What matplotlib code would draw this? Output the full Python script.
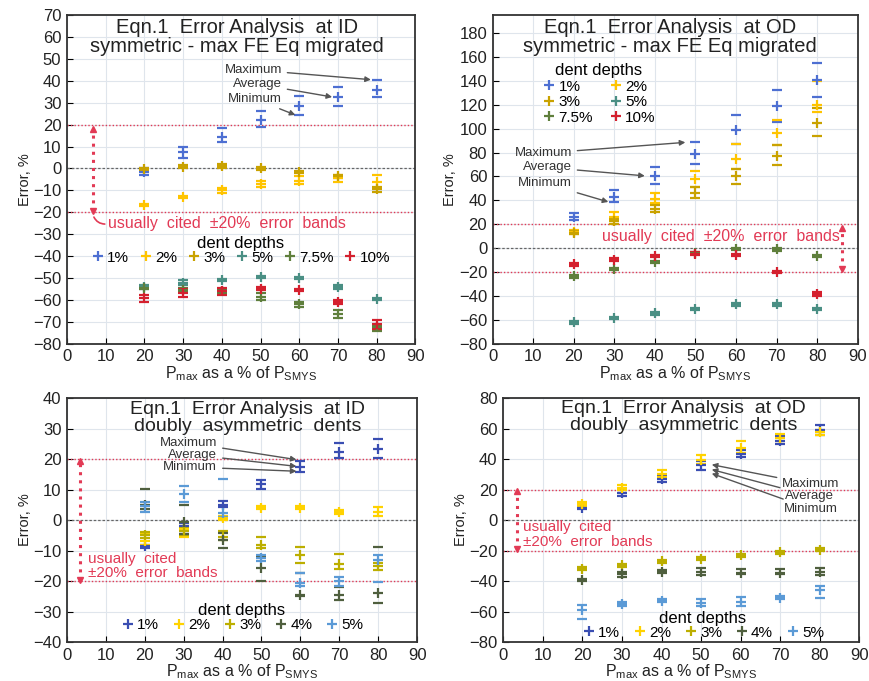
import matplotlib
matplotlib.use("Agg")
import matplotlib.pyplot as plt

plt.rcParams['font.family'] = ['Liberation Sans', 'DejaVu Sans']
plt.rcParams['mathtext.fontset'] = 'custom'
plt.rcParams['mathtext.rm'] = 'Liberation Sans'

# pressure levels (P_max as % of P_SMYS)
x = [20, 30, 40, 50, 60, 70, 80]

# --- ID, symmetric ---
tl_labels = ['1%', '2%', '3%', '5%', '7.5%', '10%']
tl_avg = {
    '1%': [-1.5, 7.5, 14.5, 22, 28.5, 32.5, 36],
    '2%': [-16.5, -13, -10, -7, -5.5, -4.5, -6],
    '3%': [-0.3, 0.8, 1, 0, -1.5, -3.5, -9.5],
    '5%': [-54, -52, -51, -49.5, -50, -54, -59.5],
    '7.5%': [-54.5, -55.5, -56, -58.5, -62, -66.5, -72.5],
    '10%': [-59, -57, -56, -55, -55.5, -61, -71],
}
tl_lo = {
    '1%': [-3, 5, 12, 19, 24.5, 28.5, 32.5],
    '2%': [-17, -13.5, -11, -8.5, -7, -6, -9],
    '3%': [-1, 0, 0, -0.5, -2, -4.5, -10.5],
    '5%': [-55, -53, -51.5, -50, -50.5, -55, -60],
    '7.5%': [-55, -56.5, -57, -60, -63, -68, -74],
    '10%': [-61, -58.5, -57.5, -55.5, -56, -62, -73],
}
tl_hi = {
    '1%': [0, 10, 18.5, 26, 33, 37, 40.5],
    '2%': [-16, -12.5, -9, -5.5, -3.5, -3, -3],
    '3%': [0.3, 1.5, 2, 0.5, -1, -2.8, -8.5],
    '5%': [-53, -51, -50.5, -49, -49.5, -53, -59],
    '7.5%': [-54, -54.5, -55, -57, -61, -64.5, -71.5],
    '10%': [-57.5, -55, -54.5, -54, -55, -60, -69],
}

# --- OD, symmetric ---
tr_avg = {
    '1%': [26.5, 43, 60.5, 78.5, 99, 119, 141],
    '2%': [13.5, 26, 41, 58, 75, 96.5, 120],
    '3%': [13, 22.5, 33, 46, 60, 77, 105],
    '5%': [-62, -58.5, -54.5, -51, -47, -47, -51],
    '7.5%': [-23.5, -17.5, -11.5, -4, -0.5, -1, -6.5],
    '10%': [-13.5, -9.5, -6.5, -4.5, -5.5, -20, -38.5],
}
tr_lo = {
    '1%': [24, 38.5, 53.5, 70, 87, 105.5, 126.5],
    '2%': [12, 23, 38, 51.5, 66.5, 86, 114],
    '3%': [12, 20, 30, 42, 54, 69.5, 93.5],
    '5%': [-63, -59.5, -55.5, -52, -48, -48, -52],
    '7.5%': [-24.5, -18.5, -12.5, -5, -1.5, -2, -7.5],
    '10%': [-14.5, -10.5, -7.5, -5.5, -6.5, -21, -40],
}
tr_hi = {
    '1%': [29.5, 48.5, 68, 88.5, 111, 132, 154.5],
    '2%': [15, 30, 46.5, 64.5, 87, 107, 140],
    '3%': [14.5, 24.5, 36, 51.5, 66.5, 86, 117],
    '5%': [-61, -57.5, -53.5, -50, -46, -46, -50],
    '7.5%': [-22.5, -16.5, -10.5, -3, 0.5, 0, -5.5],
    '10%': [-12.5, -8.5, -5.5, -3.5, -4.5, -19, -37],
}

# --- ID, doubly asymmetric ---
b_labels = ['1%', '2%', '3%', '4%', '5%']
bl_avg = {
    '1%': [-8.5, -2, 5, 11.7, 17.5, 22.4, 23.3],
    '2%': [-7, -3, 0.7, 4, 4, 2.5, 2.5],
    '3%': [-5, -3.5, -5.4, -8.3, -11.5, -14.5, -15],
    '4%': [5, -0.6, -6.5, -15.6, -24.5, -24.7, -24],
    '5%': [4.6, 8.5, 2.3, -12.5, -20.5, -20, -13],
}
bl_lo = {
    '1%': [-9.2, -3.5, 4.2, 10.3, 15.7, 20.3, 20.3],
    '2%': [-8, -5.5, 0, 3.5, 3.5, 2, 1.5],
    '3%': [-6, -5, -6.5, -9, -14.1, -16.1, -16.4],
    '4%': [3.5, -4.5, -9.2, -19.9, -25, -26.3, -27.1],
    '5%': [2.8, 6, 1, -13.5, -21.5, -21.5, -20.4],
}
bl_hi = {
    '1%': [-8, -1, 6.4, 13.1, 19.5, 25.1, 26.4],
    '2%': [-4.5, -2, 1.5, 4.5, 4.5, 3.3, 4.2],
    '3%': [-4, -2.5, -3.6, -5.4, -8.9, -11, -14],
    '4%': [10.1, 4.8, -4.3, -12, -17.5, -22, -8.9],
    '5%': [6, 11.2, 13.5, -11.5, -17.5, -18.5, -11.5],
}

# --- OD, doubly asymmetric ---
br_avg = {
    '1%': [8, 18, 27, 36, 43.5, 52, 59],
    '2%': [10.5, 21, 30.5, 39.5, 47.5, 54, 57.5],
    '3%': [-32, -29.7, -27, -25.2, -23, -21, -19.5],
    '4%': [-39.3, -35.5, -33.7, -33.7, -34.4, -34.4, -33.7],
    '5%': [-59, -55.1, -53, -54.3, -53.6, -51, -45.7],
}
br_lo = {
    '1%': [7, 15.5, 25, 33, 41.2, 49.8, 55.6],
    '2%': [9.5, 19.5, 28, 37, 44, 52, 56],
    '3%': [-33, -30.7, -28, -26, -24, -22, -20.5],
    '4%': [-40, -37, -34.5, -35.9, -35.5, -35.5, -35.9],
    '5%': [-65, -56, -54, -56.4, -56, -51.5, -50.9],
}
br_hi = {
    '1%': [9, 20, 29, 38.5, 46, 55, 62.5],
    '2%': [12, 23, 33, 42.7, 51.7, 56.7, 59],
    '3%': [-31, -28.7, -26, -24.4, -22, -20, -18.5],
    '4%': [-38.5, -34, -33, -31.6, -32, -32, -31.5],
    '5%': [-55.8, -54, -52, -51.5, -50.4, -50, -42.9],
}

top_colors = {'1%': '#4d6fd2', '2%': '#ffc400', '3%': '#c9a200',
              '5%': '#4a8f84', '7.5%': '#5f7f3c', '10%': '#d4202e'}
bot_colors = {'1%': '#3a4eb2', '2%': '#ffd200', '3%': '#bcae00',
              '4%': '#4f5f3e', '5%': '#5b9ad6'}

RED = '#e23a55'
TXT = '#222222'

fig = plt.figure(figsize=(8.69, 6.81), dpi=100)
ax_tl = fig.add_axes([0.077, 0.495, 0.401, 0.483])
ax_tr = fig.add_axes([0.567, 0.495, 0.420, 0.483])
ax_bl = fig.add_axes([0.077, 0.057, 0.403, 0.3586])
ax_br = fig.add_axes([0.579, 0.057, 0.410, 0.3586])


def setup(ax, ylim, yticks):
    ax.set_xlim(0, 90)
    ax.set_ylim(*ylim)
    ax.set_xticks(range(0, 91, 10))
    ax.set_yticks(yticks)
    ax.grid(True, color='#dfe5ec', lw=0.8, zorder=0)
    ax.set_axisbelow(True)
    ax.tick_params(direction='in', length=4, labelsize=12, labelcolor=TXT, pad=4)
    for s in ax.spines.values():
        s.set_linewidth(1.3)
        s.set_color('#333333')
    ax.axhline(0, color='#666666', lw=0.9, ls=(0, (2, 1.5)), zorder=1)
    for yv in (20, -20):
        ax.axhline(yv, color=RED, lw=1.0, ls=(0, (1, 1.5)), zorder=1)
    ax.set_xlabel(r'P$_{\mathrm{max}}$ as a % of P$_{\mathrm{SMYS}}$', fontsize=11.5, color=TXT, labelpad=0)
    ax.set_ylabel('Error, %', fontsize=10.5, color=TXT, labelpad=1)


def draw(ax, labels, avg, lo, hi, colors):
    handles = []
    for lab in labels:
        c = colors[lab]
        ax.plot(x, lo[lab], ls='none', marker='_', ms=7, mew=1.6, color=c, zorder=3)
        ax.plot(x, hi[lab], ls='none', marker='_', ms=7, mew=1.6, color=c, zorder=3)
        h, = ax.plot(x, avg[lab], ls='none', marker='+', ms=7, mew=1.6, color=c, zorder=4, label=lab)
        handles.append(h)
    return handles


def red_arrow(ax, xv, lo, hi):
    ax.plot([xv, xv], [lo, hi], color=RED, ls=':', lw=2.2, zorder=2)
    ax.plot([xv], [hi], marker='^', ms=5, color=RED, zorder=2)
    ax.plot([xv], [lo], marker='v', ms=5, color=RED, zorder=2)


def mma(ax, txt_xy, tips, ha='right'):
    names = ['Maximum', 'Average', 'Minimum']
    for name, (tx, ty), tip in zip(names, txt_xy, tips):
        ax.annotate(name, xy=tip, xytext=(tx, ty), fontsize=9.5, color='#333333',
                    ha=ha, va='center',
                    arrowprops=dict(arrowstyle='-|>', color='#555555', lw=1.0,
                                    mutation_scale=8, shrinkA=2, shrinkB=0))


def titles(ax, xc, y1, y2, l1, l2, fs):
    ax.text(xc, y1, l1, transform=ax.transAxes, ha='center', va='center', fontsize=fs, color=TXT)
    ax.text(xc, y2, l2, transform=ax.transAxes, ha='center', va='center', fontsize=fs, color=TXT)


def depth_legend(ax, handles, ncol, anchor, labelspacing=0.0, **kw):
    ax.legend(handles=handles, title='dent depths', ncol=ncol, frameon=False, loc='center',
              bbox_to_anchor=anchor, fontsize=11, title_fontsize=12,
              handletextpad=0.1, handlelength=1.0, borderpad=0.1,
              labelspacing=labelspacing, **kw)


# ---------------- top left ----------------
setup(ax_tl, (-80, 70), range(-80, 71, 10))
h = draw(ax_tl, tl_labels, tl_avg, tl_lo, tl_hi, top_colors)
titles(ax_tl, 0.489, 0.963, 0.905, 'Eqn.1  Error Analysis  at ID',
       'symmetric - max FE Eq migrated', 14.5)
mma(ax_tl, [(55.5, 45), (55.5, 38.5), (55.5, 31.7)], [(78.5, 40.5), (68.5, 32.6), (59, 24.4)])
red_arrow(ax_tl, 6.7, -19.5, 18)
ax_tl.annotate('', xy=(6.7, -21), xytext=(10.5, -25.3),
               arrowprops=dict(arrowstyle='-', color=RED, lw=1.2,
                               connectionstyle='arc3,rad=-0.4'))
ax_tl.text(10.5, -25.3, 'usually  cited  \u00b120%  error  bands', color=RED,
           fontsize=11.5, ha='left', va='center')
depth_legend(ax_tl, h, 6, (0.497, 0.285), columnspacing=0.6)

# ---------------- top right ----------------
setup(ax_tr, (-80, 195), range(-80, 181, 20))
h = draw(ax_tr, tl_labels, tr_avg, tr_lo, tr_hi, top_colors)
titles(ax_tr, 0.485, 0.963, 0.903, 'Eqn.1  Error Analysis  at OD',
       'symmetric - max FE Eq migrated', 14.5)
mma(ax_tr, [(19.5, 79.4), (19.5, 67.5), (19.5, 54.3)], [(47.5, 88.5), (37.5, 60.5), (28.5, 38.7)])
red_arrow(ax_tr, 86.2, -17, 17)
ax_tr.text(27, 9.5, 'usually  cited  \u00b120%  error  bands', color=RED,
           fontsize=11.5, ha='left', va='center')
order = [0, 2, 4, 1, 3, 5]
depth_legend(ax_tr, [h[i] for i in order], 2, (0.29, 0.76), labelspacing=0.1,
             columnspacing=1.0)

# ---------------- bottom left ----------------
setup(ax_bl, (-40, 40), range(-40, 41, 10))
h = draw(ax_bl, b_labels, bl_avg, bl_lo, bl_hi, bot_colors)
titles(ax_bl, 0.517, 0.953, 0.883, 'Eqn.1  Error Analysis  at ID',
       'doubly  asymmetric  dents', 14)
mma(ax_bl, [(38.6, 25.3), (38.6, 21.4), (38.6, 17.4)], [(59, 19.8), (59, 17.6), (59, 16)])
red_arrow(ax_bl, 3.3, -19.5, 19.5)
ax_bl.text(5.4, -12.7, 'usually  cited', color=RED, fontsize=11, ha='left', va='center')
ax_bl.text(5.4, -17.4, '\u00b120%  error  bands', color=RED, fontsize=11, ha='left', va='center')
depth_legend(ax_bl, h, 5, (0.5, 0.1), columnspacing=0.8)

# ---------------- bottom right ----------------
setup(ax_br, (-80, 80), range(-80, 81, 20))
h = draw(ax_br, b_labels, br_avg, br_lo, br_hi, bot_colors)
titles(ax_br, 0.506, 0.956, 0.886, 'Eqn.1  Error Analysis  at OD',
       'doubly  asymmetric  dents', 14)
mma(ax_br, [(70.5, 23.5), (71.3, 16), (70.8, 7.4)], [(52.7, 36.3), (52.7, 33.1), (52.7, 30.5)],
    ha='left')
red_arrow(ax_br, 3.5, -19, 19)
ax_br.text(5.1, -4.8, 'usually  cited', color=RED, fontsize=11, ha='left', va='center')
ax_br.text(5.1, -14.3, '\u00b120%  error  bands', color=RED, fontsize=11, ha='left', va='center')
depth_legend(ax_br, h, 5, (0.56, 0.07), columnspacing=0.8)

fig.savefig('out.png', dpi=100)
